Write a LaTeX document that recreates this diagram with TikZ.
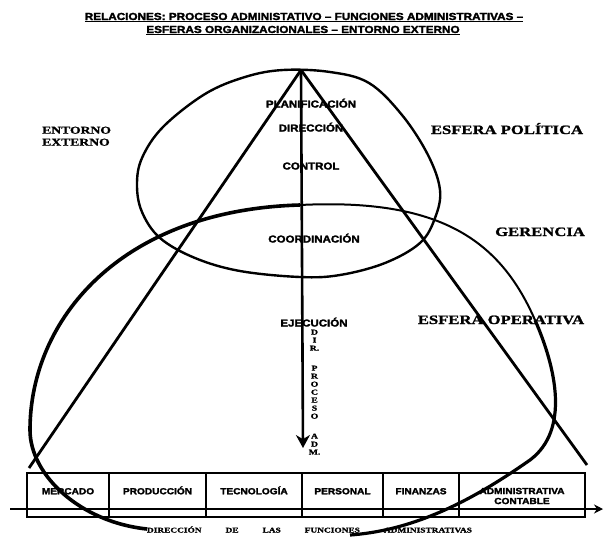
\documentclass[tikz,border=0pt]{standalone}
\usepackage{fontspec}
\usetikzlibrary{arrows.meta}
\newfontfamily\procfont[FakeStretch=1.15,FakeBold=2.5]{Liberation Sans Bold}
\newfontfamily\sphfont[FakeStretch=1.3,FakeBold=1.5]{Liberation Serif Bold}
\begin{document}
\begin{tikzpicture}[x=1pt,y=-1pt,
  title/.style={anchor=base,inner sep=0pt,font=\procfont\fontsize{10.2}{12}\selectfont},
  proc/.style={anchor=base,inner sep=0pt,font=\procfont\fontsize{10}{12}\selectfont},
  sph/.style={anchor=base,inner sep=0pt,font=\sphfont\fontsize{12.8}{14}\selectfont},
  cell/.style={draw,line width=1.3pt,outer sep=0pt,inner sep=0pt,minimum height=36pt,
    text height=6.5pt,text depth=0pt,font=\procfont\fontsize{8.8}{10}\selectfont},
  thickline/.style={line width=2.8pt}]
\useasboundingbox (0,0) rectangle (604,536);

\node[title] (t1) at (304,20) {\underline{RELACIONES: PROCESO ADMINISTATIVO – FUNCIONES ADMINISTRATIVAS –}};
\node[title] (t2) at (303,33) {\underline{ESFERAS ORGANIZACIONALES – ENTORNO EXTERNO}};

\draw[line width=2.4pt] plot[smooth cycle,tension=0.6] coordinates {(283,70) (330,72) (369,83) (402,115)
  (428,155) (440,190) (435,218) (420,243) (385,263) (340,275) (300,277) (240,271) (195,258) (160,238)
  (142,212) (137,185) (142,158) (163,127) (205,94) (245,77)};

\coordinate (g0) at (147,529);
\coordinate (g1) at (30,430);
\coordinate (g2) at (300,205);
\coordinate (g3) at (535,320);
\coordinate (g4) at (530,460);
\coordinate (g5) at (350,535);
\draw[line width=3.6pt] (g0) .. controls (80,522) and (30,475) .. (g1)
  .. controls (30,320) and (120,210) .. (g2);
\draw[line width=2pt] (g2) .. controls (440,198) and (500,240) .. (g3);
\draw[line width=3.2pt] (g3) .. controls (556,368) and (570,430) .. (g4)
  .. controls (480,495) and (420,530) .. (g5);

\coordinate (top) at (301,70);
\coordinate (lf) at (29,468);
\coordinate (rf) at (587,465);
\coordinate (tip) at (303,448);
\draw[thickline] (top) -- (lf);
\draw[thickline] (top) -- (rf);
\draw[line width=2.6pt,-{Stealth[length=13pt,width=14pt]}] (top) -- (tip);

\node[proc] (plan) at (311,107.5) {PLANIFICACIÓN};
\node[proc] (dir) at (311,131.5) {DIRECCIÓN};
\node[proc] (ctrl) at (311,169.5) {CONTROL};
\node[proc] (coord) at (314,242.5) {COORDINACIÓN};
\node[proc] (ejec) at (314,326.5) {EJECUCIÓN};
\node[anchor=north,inner sep=0pt,align=center,font=\sphfont\fontsize{7.5}{8}\selectfont]
  (dpa) at (314.5,329.5) {D\\I\\R.\\[12pt]P\\R\\O\\C\\E\\S\\O\\[12pt]A\\D\\M.};

\node[anchor=north west,inner sep=0pt,align=left,font=\sphfont\fontsize{10.5}{12}\selectfont]
  (ent) at (42,126.5) {ENTORNO\\EXTERNO};
\node[sph] (pol) at (507,134) {ESFERA POLÍTICA};
\node[sph] (ger) at (540,236) {GERENCIA};
\node[sph] (ope) at (501,324) {ESFERA OPERATIVA};

\node[cell,minimum width=82pt] (c1) at (68,491) {MERCADO};
\node[cell,minimum width=97pt] (c2) at (157.5,491) {PRODUCCIÓN};
\node[cell,minimum width=96pt] (c3) at (254,491) {TECNOLOGÍA};
\node[cell,minimum width=81pt] (c4) at (342.5,491) {PERSONAL};
\node[cell,minimum width=76pt] (c5) at (421,491) {FINANZAS};
\node[cell,minimum width=126pt] (c6) at (522,491) {};
\node[anchor=north,inner sep=0pt,align=center,font=\procfont\fontsize{8.8}{10}\selectfont]
  (c6t) at (c6.center) [yshift=3.3pt] {ADMINISTRATIVA\\CONTABLE};
\foreach \c in {c1,c2,c3,c4,c5,c6}
  \draw[line width=1.3pt] (\c.south west) -- ++(0,8) -| (\c.south east);

\coordinate (ax0) at (10,509);
\coordinate (ax1) at (603,509);
\draw[line width=1.1pt,-{Stealth[length=9pt,width=9pt]}] (ax0) -- (ax1);

\node[anchor=base,inner sep=0pt,text width=325pt,font=\sphfont\fontsize{7.2}{9}\selectfont]
  (fun) at (309.5,532.5) {DIRECCIÓN\hfill DE\hfill LAS\hfill FUNCIONES\hfill ADMINISTRATIVAS};
\end{tikzpicture}
\end{document}
